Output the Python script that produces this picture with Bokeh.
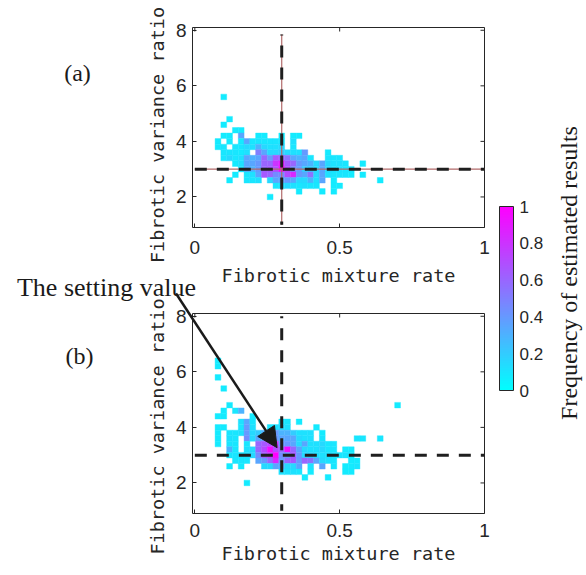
import math
from bokeh.plotting import figure
from bokeh.models import (Range1d, FixedTicker, CustomJSTickFormatter, ColorBar, GridBox,
                          LinearColorMapper, Label, Arrow, NormalHead, ColumnDataSource)
from bokeh.transform import linear_cmap
from bokeh.embed import file_html
from bokeh.resources import INLINE

# ---------------- data ----------------
X_TICKS = [0, 0.5, 1]
Y_TICKS = [2, 4, 6, 8]
CB_TICKS = [0, 0.2, 0.4, 0.6, 0.8, 1]
X_LIM = (-0.008, 1.0)
Y_LIM = (0.9, 8.1)
BIN_W = 0.02
BIN_H = 0.2
SET_X = 0.3
SET_Y = 3.0
H_LINE_X = [0.0, 1.0]
V_LINE_Y_A = [7.85, 1.0]
V_LINE_Y_B = [8.0, 1.0]

# panel (a): histogram rows (y centre, x centres, normalised frequency)
A_ROW_Y = [5.6, 4.8, 4.6, 4.4, 4.2, 4.0, 3.8, 3.6, 3.4, 3.2, 3.0, 2.8, 2.6, 2.4, 2.2, 2.0]
A_ROW_X = [
    [0.10],
    [0.12],
    [0.10],
    [0.14, 0.16],
    [0.10, 0.12, 0.16, 0.22, 0.24, 0.30, 0.34, 0.36],
    [0.08, 0.12, 0.16, 0.18, 0.20, 0.22, 0.24, 0.26, 0.28, 0.30, 0.34],
    [0.08, 0.10, 0.14, 0.16, 0.18, 0.20, 0.22, 0.24, 0.26, 0.28, 0.30, 0.34],
    [0.10, 0.12, 0.14, 0.16, 0.18, 0.22, 0.24, 0.26, 0.28, 0.30, 0.32, 0.34, 0.36, 0.38, 0.46],
    [0.10, 0.12, 0.14, 0.16, 0.18, 0.20, 0.22, 0.24, 0.26, 0.28, 0.30, 0.32, 0.34, 0.36, 0.38, 0.40, 0.46, 0.48, 0.50],
    [0.14, 0.16, 0.18, 0.20, 0.22, 0.24, 0.26, 0.28, 0.30, 0.32, 0.34, 0.36, 0.38, 0.40, 0.42, 0.44, 0.46, 0.48, 0.50, 0.52, 0.58],
    [0.16, 0.18, 0.20, 0.22, 0.24, 0.26, 0.28, 0.30, 0.32, 0.34, 0.36, 0.38, 0.40, 0.42, 0.44, 0.46, 0.48, 0.50, 0.52, 0.54],
    [0.14, 0.18, 0.20, 0.22, 0.24, 0.26, 0.28, 0.30, 0.32, 0.34, 0.36, 0.38, 0.40, 0.42, 0.44, 0.46, 0.48, 0.50, 0.52, 0.54, 0.58],
    [0.12, 0.18, 0.20, 0.22, 0.26, 0.28, 0.30, 0.32, 0.34, 0.36, 0.38, 0.40, 0.42, 0.44, 0.48, 0.64],
    [0.28, 0.30, 0.32, 0.34, 0.36, 0.38, 0.40, 0.42, 0.48, 0.50],
    [0.36, 0.44, 0.48],
    [0.26],
]
A_ROW_V = [
    [.08],
    [.08],
    [.08],
    [.08, .08],
    [.08, .08, .35, .08, .08, .08, .08, .08],
    [.08, .08, .08, .35, .10, .10, .10, .10, .10, .10, .12],
    [.08, .10, .10, .10, .15, .12, .30, .15, .12, .12, .15, .10],
    [.10, .10, .10, .08, .12, .50, .35, .15, .15, .20, .15, .12, .12, .40, .08],
    [.10, .15, .10, .12, .35, .30, .35, .60, .40, .65, .60, .55, .35, .30, .35, .10, .10, .10, .10],
    [.08, .12, .35, .35, .40, .60, .60, .80, .90, .65, .60, .40, .35, .30, .15, .35, .15, .12, .12, .10, .08],
    [.10, .35, .30, .40, .60, .65, .70, 1.0, .70, .45, .40, .20, .20, .15, .35, .15, .12, .12, .10, .10],
    [.08, .10, .12, .35, .65, .60, .45, .45, .70, .85, .40, .35, .55, .15, .35, .12, .10, .10, .10, .08, .08],
    [.08, .10, .10, .12, .15, .35, .35, .40, .35, .15, .15, .30, .12, .35, .08, .08],
    [.10, .12, .15, .12, .10, .12, .10, .10, .08, .08],
    [.08, .08, .08],
    [.08],
]

# panel (b)
B_ROW_Y = [6.4, 6.2, 5.8, 5.4, 4.8, 4.6, 4.4, 4.2, 4.0, 3.8, 3.6, 3.4, 3.2, 3.0, 2.8, 2.6, 2.4, 2.2, 2.0]
B_ROW_X = [
    [0.08],
    [0.08],
    [0.08],
    [0.10],
    [0.12, 0.70],
    [0.10, 0.14, 0.16],
    [0.08, 0.10, 0.20],
    [0.16, 0.18, 0.20, 0.30, 0.32, 0.36],
    [0.08, 0.10, 0.16, 0.18, 0.20, 0.26, 0.28, 0.30, 0.32, 0.42],
    [0.08, 0.12, 0.14, 0.16, 0.18, 0.20, 0.22, 0.24, 0.26, 0.28, 0.30, 0.32, 0.34, 0.36, 0.38, 0.40, 0.44],
    [0.08, 0.12, 0.14, 0.18, 0.20, 0.22, 0.24, 0.26, 0.28, 0.30, 0.32, 0.34, 0.36, 0.38, 0.40, 0.44, 0.56, 0.58, 0.64],
    [0.08, 0.12, 0.14, 0.18, 0.22, 0.24, 0.26, 0.28, 0.30, 0.32, 0.34, 0.36, 0.38, 0.40, 0.42, 0.44, 0.46, 0.48],
    [0.12, 0.14, 0.18, 0.20, 0.22, 0.24, 0.26, 0.28, 0.30, 0.32, 0.34, 0.36, 0.38, 0.40, 0.42, 0.44, 0.46, 0.48, 0.52, 0.54],
    [0.12, 0.14, 0.16, 0.18, 0.20, 0.22, 0.24, 0.26, 0.28, 0.30, 0.32, 0.34, 0.36, 0.38, 0.40, 0.42, 0.44, 0.46, 0.48, 0.50, 0.52, 0.54],
    [0.14, 0.16, 0.18, 0.22, 0.24, 0.26, 0.28, 0.30, 0.32, 0.34, 0.36, 0.38, 0.40, 0.42, 0.44, 0.46, 0.48, 0.54, 0.56],
    [0.12, 0.16, 0.24, 0.26, 0.28, 0.30, 0.32, 0.34, 0.36, 0.40, 0.44, 0.48, 0.52, 0.54, 0.56],
    [0.30, 0.32, 0.34, 0.36, 0.40, 0.52, 0.54],
    [0.38, 0.46],
    [0.18],
]
B_ROW_V = [
    [.08],
    [.08],
    [.08],
    [.08],
    [.08, .08],
    [.08, .10, .30],
    [.08, .08, .08],
    [.12, .35, .10, .10, .10, .08],
    [.08, .08, .10, .40, .12, .10, .12, .15, .12, .08],
    [.08, .10, .10, .12, .40, .15, .20, .30, .35, .40, .30, .30, .20, .12, .12, .12, .08],
    [.08, .12, .10, .45, .15, .35, .40, .50, .40, .35, .35, .35, .15, .12, .12, .10, .10, .10, .10],
    [.08, .10, .10, .10, .60, .65, .70, .80, .40, .40, .35, .15, .35, .12, .12, .15, .10, .10],
    [.30, .10, .12, .15, .60, .70, .95, .70, .60, .95, .60, .35, .15, .12, .12, .15, .10, .10, .08, .08],
    [.10, .10, .10, .12, .15, .45, .65, .75, 1.0, .45, .40, .65, .40, .15, .15, .12, .12, .12, .10, .10, .10, .08],
    [.10, .10, .10, .35, .40, .60, .85, .40, .60, .65, .40, .60, .55, .35, .15, .12, .10, .08, .08],
    [.08, .08, .15, .15, .35, .35, .15, .15, .35, .12, .35, .10, .08, .08, .10],
    [.12, .12, .12, .10, .08, .08, .08],
    [.08, .08],
    [.08],
]

# ---------------- layout / styling ----------------
AX = "#262626"
TXT = "#1a1a1a"
TICK_FONT = "Liberation Sans"
LABEL_FONT = "DejaVu Sans Mono"
SERIF = "Liberation Serif"

PANEL_W = 492
FRAME_L = 192
FRAME_W = 292
FRAME_H = 200
A_H, A_TOP = 294, 27
B_H, B_TOP = 273, 19
C_W = 94
TOTAL_W = PANEL_W + C_W
TOTAL_H = A_H + B_H

# MATLAB "cool" colormap
COOL = []
for k in range(256):
    t = k / 255.0
    r = int(round(255 * t))
    COOL.append("#%02x%02x%02x" % (r, 255 - r, 255))


def flatten(rows_y, rows_x, rows_v):
    xs, ys, vs = [], [], []
    for y, rx, rv in zip(rows_y, rows_x, rows_v):
        for x, v in zip(rx, rv):
            xs.append(x)
            ys.append(y)
            vs.append(v)
    return ColumnDataSource(dict(x=xs, y=ys, v=vs))


def fmt():
    return CustomJSTickFormatter(code="return tick.toString();")


def panel(height, top, src, vline_y, red, x_std, xl_std, vdash_offset):
    p = figure(width=PANEL_W, height=height,
               x_range=Range1d(*X_LIM), y_range=Range1d(*Y_LIM),
               output_backend="svg", toolbar_location=None,
               min_border_left=FRAME_L, min_border_right=PANEL_W - FRAME_L - FRAME_W,
               min_border_top=top, min_border_bottom=height - top - FRAME_H)
    p.frame_align = False
    p.grid.visible = False
    p.outline_line_color = AX
    p.outline_line_width = 1
    p.background_fill_color = "white"

    for ax in (p.xaxis[0], p.yaxis[0]):
        ax.axis_line_color = None
        ax.major_tick_in = 4
        ax.major_tick_out = 0
        ax.major_tick_line_color = AX
        ax.minor_tick_line_color = None
        ax.major_label_text_font = TICK_FONT
        ax.major_label_text_font_size = "19px"
        ax.major_label_text_color = AX
        ax.axis_label_text_font = LABEL_FONT
        ax.axis_label_text_font_size = "18.5px"
        ax.axis_label_text_font_style = "normal"
        ax.axis_label_text_color = AX
        ax.formatter = fmt()
    p.xaxis[0].ticker = FixedTicker(ticks=X_TICKS)
    p.yaxis[0].ticker = FixedTicker(ticks=Y_TICKS)
    p.xaxis[0].axis_label = "Fibrotic mixture rate"
    p.xaxis[0].major_label_standoff = x_std
    p.xaxis[0].axis_label_standoff = xl_std
    p.yaxis[0].major_label_standoff = 6

    # inward ticks on the top and right edges of the box
    tick_dy = 4 * (Y_LIM[1] - Y_LIM[0]) / FRAME_H
    tick_dx = 4 * (X_LIM[1] - X_LIM[0]) / FRAME_W
    p.segment(x0=X_TICKS, y0=[Y_LIM[1]] * len(X_TICKS), x1=X_TICKS,
              y1=[Y_LIM[1] - tick_dy] * len(X_TICKS), line_color=AX, line_width=1)
    p.segment(x0=[X_LIM[1]] * len(Y_TICKS), y0=Y_TICKS, x1=[X_LIM[1] - tick_dx] * len(Y_TICKS),
              y1=Y_TICKS, line_color=AX, line_width=1)

    p.rect(x="x", y="y", width=BIN_W, height=BIN_H, source=src,
           fill_color=linear_cmap("v", COOL, 0, 1),
           line_color=linear_cmap("v", COOL, 0, 1), line_width=0.4)

    if red:
        p.line(x=H_LINE_X, y=[SET_Y, SET_Y], line_color="#b26a6a", line_width=1.2)
        p.line(x=[SET_X, SET_X], y=vline_y, line_color="#b26a6a", line_width=1.2)
    p.line(x=H_LINE_X, y=[SET_Y, SET_Y], line_color="#1f1f1f", line_width=3,
           line_dash="12 10")
    p.line(x=[SET_X, SET_X], y=vline_y, line_color="#1f1f1f", line_width=3,
           line_dash="12 10", line_dash_offset=vdash_offset)
    return p


fa = panel(A_H, A_TOP, flatten(A_ROW_Y, A_ROW_X, A_ROW_V), V_LINE_Y_A, True, 13, 8, 11)
fb = panel(B_H, B_TOP, flatten(B_ROW_Y, B_ROW_X, B_ROW_V), V_LINE_Y_B, False, 10, 3, 10)

# colour bar panel
fc = figure(width=C_W, height=TOTAL_H, x_range=Range1d(0, C_W), y_range=Range1d(0, TOTAL_H),
            output_backend="svg", toolbar_location=None, min_border=0,
            x_axis_location=None, y_axis_location=None)
fc.frame_align = False
fc.grid.visible = False
fc.outline_line_color = None
mapper = LinearColorMapper(palette=COOL, low=0, high=1)
cb = ColorBar(color_mapper=mapper, ticker=FixedTicker(ticks=CB_TICKS), formatter=fmt(),
              width=14, height=184, location=(7, 177), padding=0, margin=0,
              label_standoff=6, major_tick_line_color=None, minor_tick_line_color=None,
              major_label_text_font=TICK_FONT, major_label_text_font_size="17px",
              major_label_text_color=AX, bar_line_color=AX, bar_line_width=1,
              border_line_color=None, background_fill_color=None)
fc.add_layout(cb)

# transparent overlay (page pixel coordinates) for texts and the arrow that cross panels
ov = figure(width=TOTAL_W, height=TOTAL_H, x_range=Range1d(0, TOTAL_W),
            y_range=Range1d(TOTAL_H, 0), output_backend="svg", toolbar_location=None,
            min_border=0, x_axis_location=None, y_axis_location=None)
ov.frame_align = False
ov.grid.visible = False
ov.outline_line_color = None
ov.background_fill_color = None
ov.border_fill_color = None


def b_page(x, y):
    px = FRAME_L + (x - X_LIM[0]) / (X_LIM[1] - X_LIM[0]) * FRAME_W
    py = A_H + B_TOP + (Y_LIM[1] - y) / (Y_LIM[1] - Y_LIM[0]) * FRAME_H
    return px, py


ARROW_TO = b_page(0.284, 3.27)
ARROW_FROM = (175.5, 293.0)


def lab(x, y, text, font, size, angle=0.0, baseline="middle", color=TXT):
    ov.add_layout(Label(x=x, y=y, text=text, text_font=font, text_font_size=size,
                        text_color=color, text_align="center", text_baseline=baseline,
                        angle=angle))


lab(77, 72, "(a)", SERIF, "24px")
lab(79, 355, "(b)", SERIF, "24px")
lab(106, 287, "The setting value", SERIF, "26px", baseline="alphabetic")
lab(157, 134.5, "Fibrotic variance ratio", LABEL_FONT, "18.5px", angle=math.pi / 2, color=AX)
lab(157, 426, "Fibrotic variance ratio", LABEL_FONT, "18.5px", angle=math.pi / 2, color=AX)
lab(568, 272.5, "Frequency of estimated results", SERIF, "24px", angle=math.pi / 2)
ov.add_layout(Arrow(end=NormalHead(size=20, fill_color=TXT, line_color=TXT, line_width=1),
                    x_start=ARROW_FROM[0], y_start=ARROW_FROM[1],
                    x_end=ARROW_TO[0], y_end=ARROW_TO[1],
                    line_color=TXT, line_width=2.5))

layout = GridBox(children=[(fa, 0, 0), (fb, 1, 0), (fc, 0, 1, 2, 1), (ov, 0, 0, 2, 2)])
open("out.html", "w").write(file_html(layout, INLINE))
